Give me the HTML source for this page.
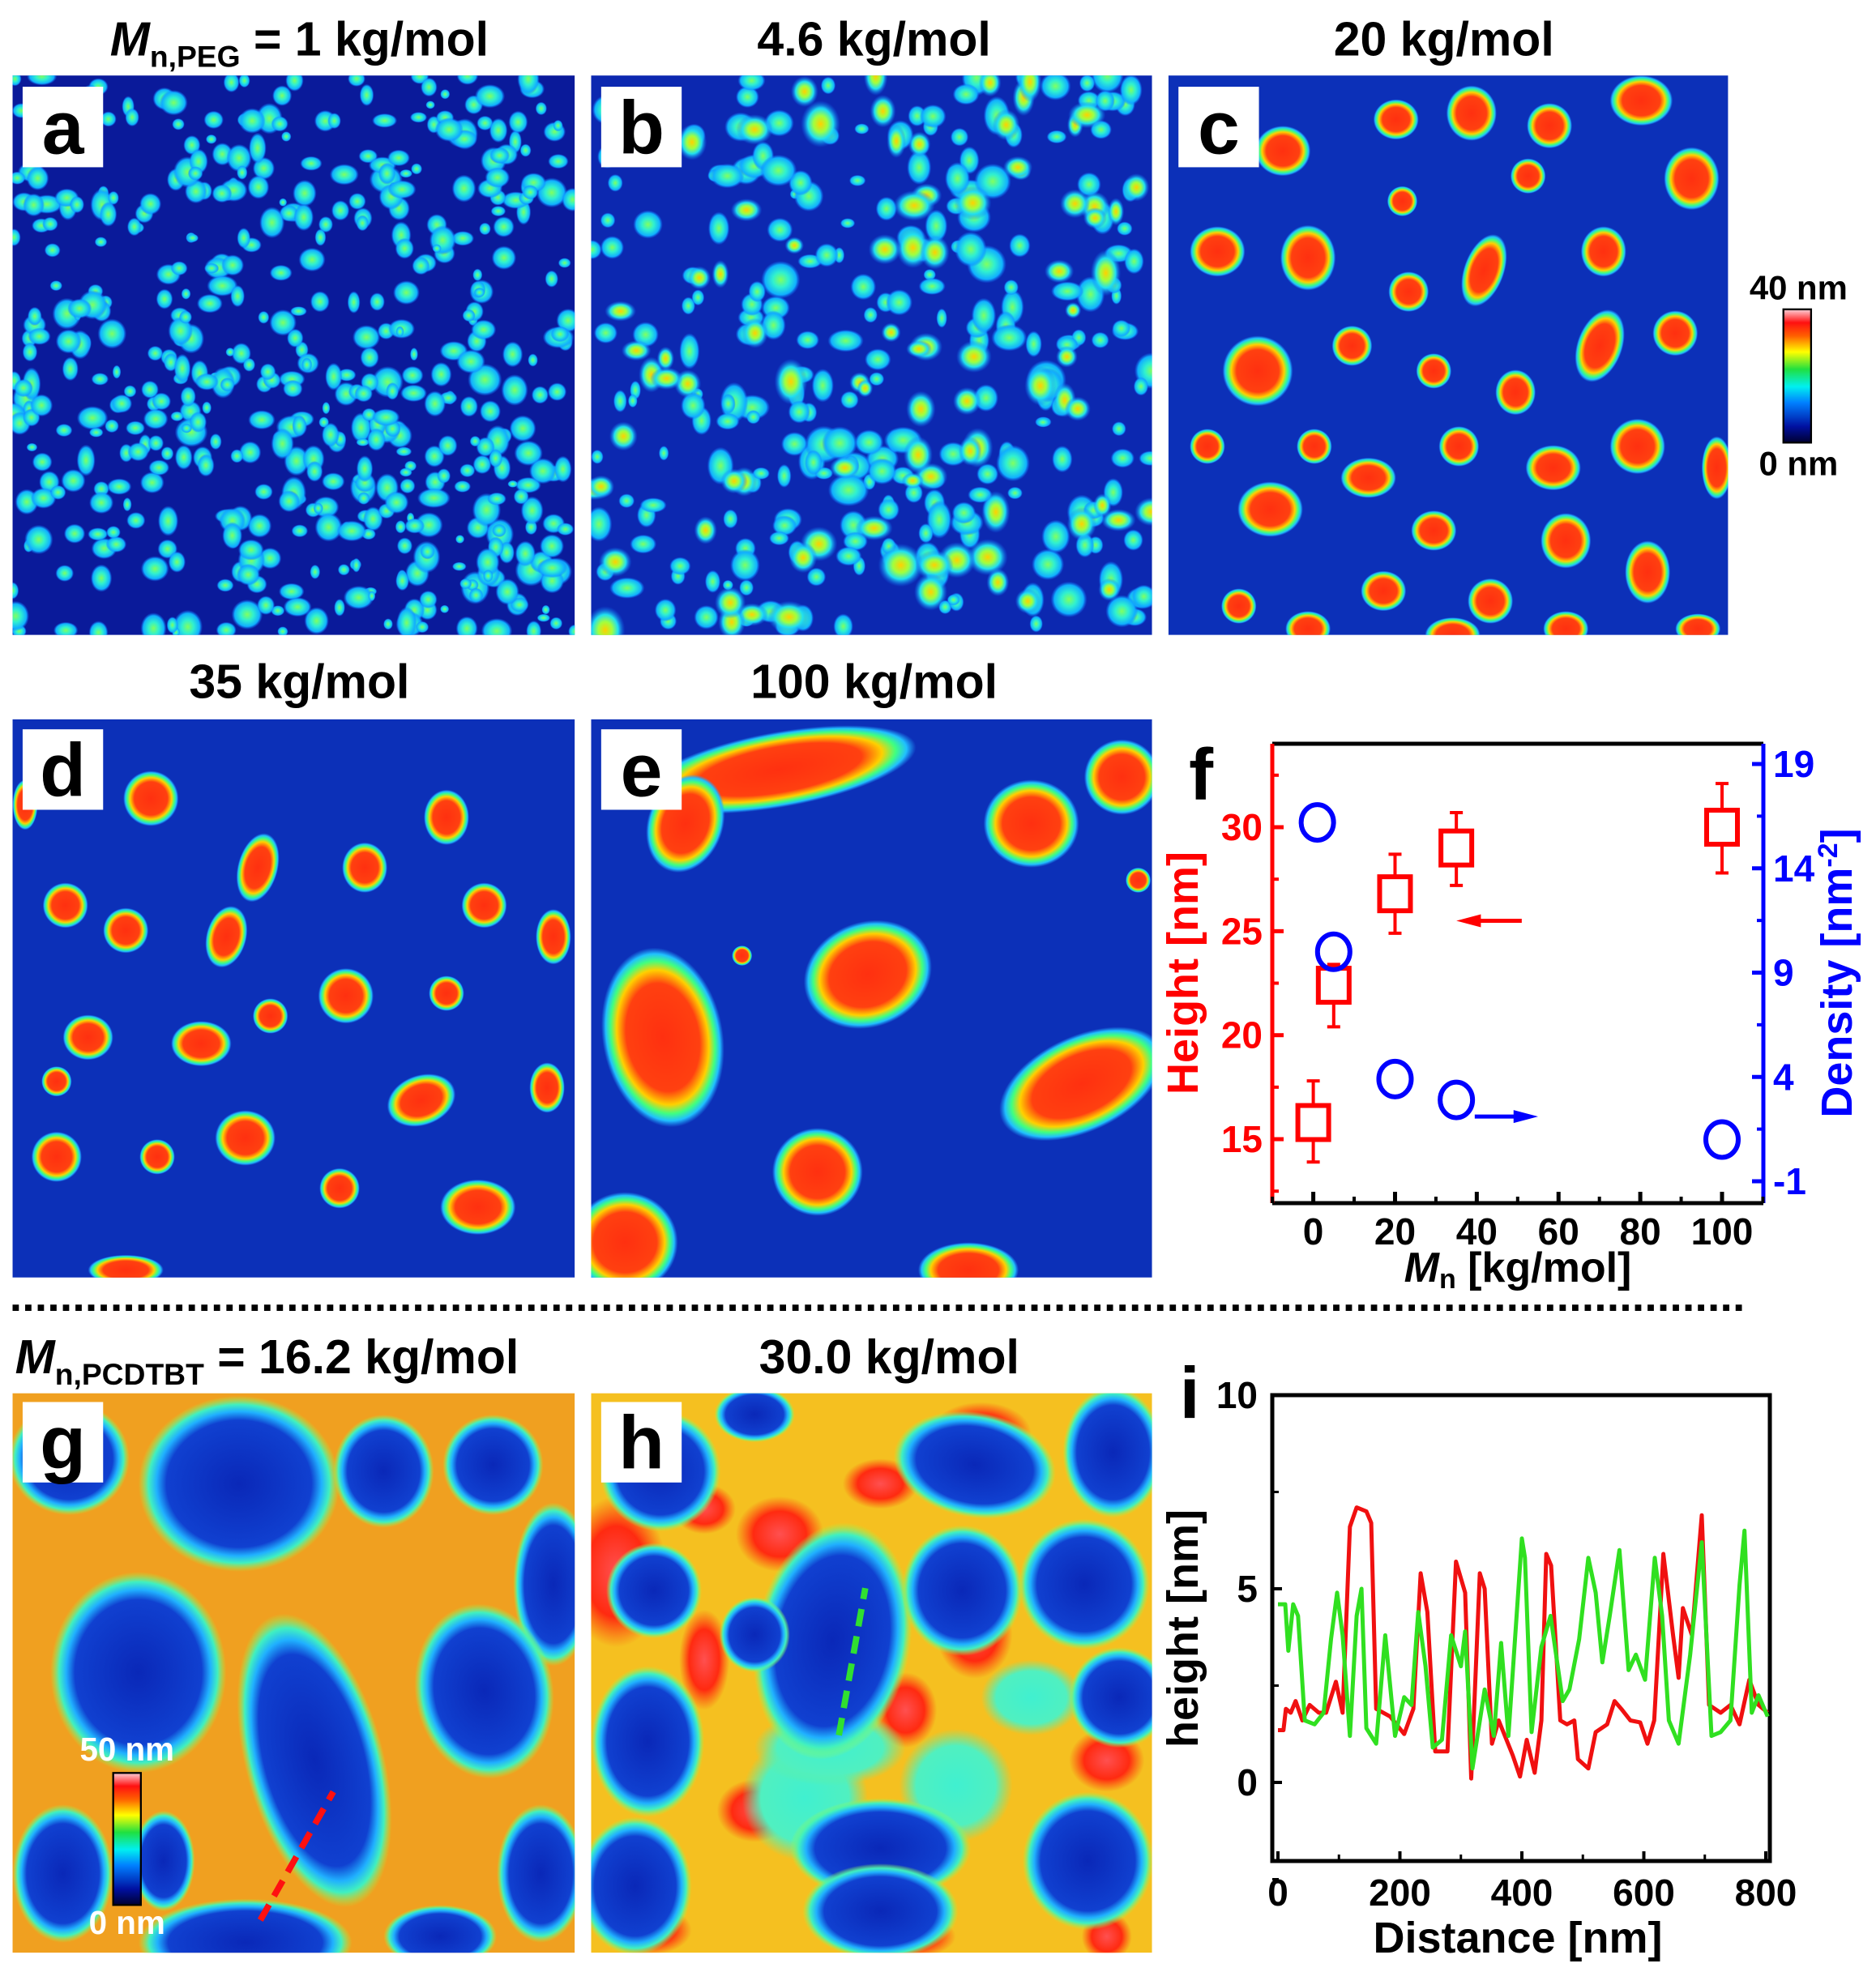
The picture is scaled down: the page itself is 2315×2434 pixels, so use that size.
<!DOCTYPE html>
<html><head><meta charset="utf-8"><style>
html,body{margin:0;padding:0;background:#fff}
svg{display:block;font-family:"Liberation Sans",Arial,sans-serif;font-weight:bold}
</style></head><body>
<svg id="fig" width="2315" height="2434" viewBox="0 0 2315 2434" xmlns="http://www.w3.org/2000/svg">
<defs>
<radialGradient id="gBlob"><stop offset="0" stop-color="#ff3010"/><stop offset="0.6" stop-color="#ff4010"/><stop offset="0.75" stop-color="#ffd000"/><stop offset="0.85" stop-color="#40ff80"/><stop offset="0.93" stop-color="#20c0ff"/><stop offset="1" stop-color="#20a0ff" stop-opacity="0"/></radialGradient>
<radialGradient id="gCyan"><stop offset="0" stop-color="#80ff60"/><stop offset="0.4" stop-color="#30f0d0"/><stop offset="0.8" stop-color="#10b0ff"/><stop offset="1" stop-color="#1070ff" stop-opacity="0"/></radialGradient>
<radialGradient id="gYel"><stop offset="0" stop-color="#ffd000"/><stop offset="0.35" stop-color="#a0ff40"/><stop offset="0.65" stop-color="#20e0f0"/><stop offset="1" stop-color="#1070ff" stop-opacity="0"/></radialGradient>
<radialGradient id="gHole"><stop offset="0" stop-color="#0a28b8"/><stop offset="0.72" stop-color="#1040d0"/><stop offset="0.82" stop-color="#20b0ff"/><stop offset="0.9" stop-color="#40f0c0"/><stop offset="1" stop-color="#a0ff40" stop-opacity="0"/></radialGradient>
<radialGradient id="gRed"><stop offset="0" stop-color="#ff5050"/><stop offset="0.6" stop-color="#ff2a10"/><stop offset="1" stop-color="#ff4010" stop-opacity="0"/></radialGradient>
<radialGradient id="gTeal"><stop offset="0" stop-color="#40f0d0"/><stop offset="0.7" stop-color="#50f0c0"/><stop offset="1" stop-color="#60f0a0" stop-opacity="0"/></radialGradient>
<linearGradient id="cbar" x1="0" y1="1" x2="0" y2="0"><stop offset="0" stop-color="#000030"/><stop offset="0.12" stop-color="#0010a0"/><stop offset="0.3" stop-color="#0080ff"/><stop offset="0.42" stop-color="#00f0f0"/><stop offset="0.55" stop-color="#20e040"/><stop offset="0.68" stop-color="#ffff00"/><stop offset="0.8" stop-color="#ff6000"/><stop offset="0.9" stop-color="#ff1010"/><stop offset="1" stop-color="#ffd0d8"/></linearGradient>
<clipPath id="cA"><rect x="10" y="60" width="447" height="445"/></clipPath>
<clipPath id="cB"><rect x="470" y="60" width="446" height="445"/></clipPath>
<clipPath id="cC"><rect x="929" y="60" width="445" height="445"/></clipPath>
<clipPath id="cD"><rect x="10" y="572" width="447" height="444"/></clipPath>
<clipPath id="cE"><rect x="470" y="572" width="446" height="444"/></clipPath>
<clipPath id="cG"><rect x="10" y="1108" width="447" height="445"/></clipPath>
<clipPath id="cH"><rect x="470" y="1108" width="446" height="445"/></clipPath>
</defs>
<g id="imgs" transform="scale(1.552)">
 <g clip-path="url(#cA)"><rect x="10" y="60" width="447" height="445" fill="#0a1a9a"/><g id="blobsA"></g></g>
 <g clip-path="url(#cB)"><rect x="470" y="60" width="446" height="445" fill="#0c28b0"/><g id="blobsB"></g></g>
 <g clip-path="url(#cC)"><rect x="929" y="60" width="445" height="445" fill="#0c30b8"/><g id="blobsC"></g></g>
 <g clip-path="url(#cD)"><rect x="10" y="572" width="447" height="444" fill="#0c30b8"/><g id="blobsD"></g></g>
 <g clip-path="url(#cE)"><rect x="470" y="572" width="446" height="444" fill="#0c30b8"/><g id="blobsE"></g></g>
 <g clip-path="url(#cG)"><rect x="10" y="1108" width="447" height="445" fill="#f0a020"/><g id="blobsG"></g>
   <line x1="207" y1="1527" x2="265" y2="1425" stroke="#ff1010" stroke-width="5" stroke-dasharray="14 8"/></g>
 <g clip-path="url(#cH)"><rect x="470" y="1108" width="446" height="445" fill="#f5c020"/><g id="blobsH"></g>
   <line x1="667" y1="1380" x2="688" y2="1263" stroke="#30e030" stroke-width="5" stroke-dasharray="14 8"/></g>

 <g font-size="60" text-anchor="middle">
  <rect x="18" y="69" width="64" height="64" fill="#fff"/><text x="50" y="122">a</text>
  <rect x="478" y="69" width="64" height="64" fill="#fff"/><text x="510" y="122">b</text>
  <rect x="937" y="69" width="64" height="64" fill="#fff"/><text x="969" y="122">c</text>
  <rect x="18" y="580" width="64" height="64" fill="#fff"/><text x="50" y="633">d</text>
  <rect x="478" y="580" width="64" height="64" fill="#fff"/><text x="510" y="633">e</text>
  <rect x="18" y="1115" width="64" height="64" fill="#fff"/><text x="50" y="1168">g</text>
  <rect x="478" y="1115" width="64" height="64" fill="#fff"/><text x="510" y="1168">h</text>
  <text x="955" y="636" font-size="58">f</text>
  <text x="946" y="1128" font-size="58">i</text>
 </g>
 <g font-size="38" text-anchor="middle">
  <text x="238" y="44"><tspan font-style="italic">M</tspan><tspan font-size="24" dy="9">n,PEG</tspan><tspan dy="-9"> = 1 kg/mol</tspan></text>
  <text x="695" y="44">4.6 kg/mol</text>
  <text x="1148" y="44">20 kg/mol</text>
  <text x="238" y="555">35 kg/mol</text>
  <text x="695" y="555">100 kg/mol</text>
  <text x="12" y="1092" text-anchor="start"><tspan font-style="italic">M</tspan><tspan font-size="24" dy="9">n,PCDTBT</tspan><tspan dy="-9"> = 16.2 kg/mol</tspan></text>
  <text x="707" y="1092">30.0 kg/mol</text>
 </g>
 <g>
  <rect x="1418" y="246" width="22" height="106" fill="url(#cbar)" stroke="#000" stroke-width="1.5"/>
  <text x="1430" y="238" font-size="27" text-anchor="middle">40 nm</text>
  <text x="1430" y="378" font-size="27" text-anchor="middle">0 nm</text>
 </g>
 <g>
  <rect x="90" y="1410" width="22" height="105" fill="url(#cbar)" stroke="#000" stroke-width="1.5"/>
  <text x="101" y="1400" font-size="26" text-anchor="middle" fill="#fff">50 nm</text>
  <text x="101" y="1538" font-size="26" text-anchor="middle" fill="#fff">0 nm</text>
 </g>
 <line x1="10" y1="1040" x2="1388" y2="1040" stroke="#000" stroke-width="5" stroke-dasharray="5 5"/>
</g>

<g id="chartF"></g>
<g id="chartI"></g>
</svg>
<script>
const NS='http://www.w3.org/2000/svg';
function mk(tag,attrs,parent){const e=document.createElementNS(NS,tag);for(const k in attrs)e.setAttribute(k,attrs[k]);parent.appendChild(e);return e;}

// ---- chart f data ----
const fMn=[0,5,20,35,100];
const fHeight=[15.8,22.4,26.8,29.0,30.0];
const fHeightLo=[13.9,20.4,24.9,27.2,27.8];
const fHeightHi=[17.8,23.4,28.7,30.7,32.1];
const fDensMn=[1,5,20,35,100];
const fDensity=[16.2,10.0,3.9,2.9,1.0];
const fXTicks=[0,20,40,60,80,100];
const fHTicks=[15,20,25,30];
const fDTicks=[-1,4,9,14,19];

// ---- chart i data ----
const iRedX=[0,9,13,21,29,40,52,67,79,95,106,118,129,145,153,161,184,207,222,234,245,258,278,292,307,317,331,339,351,362,385,397,408,421,432,440,448,463,474,486,492,509,521,540,552,563,578,594,606,617,632,648,657,664,679,695,707,726,742,757,773,788,803];
const iRed=[1.35,1.35,1.9,1.8,2.1,1.6,2.0,1.8,1.8,2.6,1.8,6.6,7.1,7.0,6.7,1.9,1.7,1.25,1.9,5.4,4.4,0.8,0.8,5.7,4.9,0.1,5.4,5.0,1.0,1.6,0.7,0.15,1.1,0.25,1.6,5.9,5.6,1.6,1.5,1.6,0.6,0.36,1.3,1.5,2.1,1.9,1.6,1.55,1.0,1.6,5.9,3.8,2.7,4.5,3.8,6.9,2.0,1.8,2.0,1.5,2.65,2.0,1.8];
const iGreenX=[0,12,17,25,33,44,60,75,87,97,106,118,129,137,145,161,176,192,207,219,230,242,254,269,284,300,307,319,339,354,366,378,400,405,416,432,447,467,478,494,509,521,532,544,560,575,587,602,618,630,641,657,676,695,711,726,742,757,765,777,788,803];
const iGreen=[4.6,4.6,3.4,4.6,4.3,1.6,1.5,1.8,3.7,4.9,3.8,1.2,4.3,5.0,1.4,1.0,3.8,1.2,2.2,2.0,4.4,3.0,0.9,1.1,3.8,3.0,3.9,0.36,2.4,1.2,3.6,1.2,6.3,5.8,1.3,3.5,4.3,2.1,2.4,3.7,5.8,4.9,3.1,4.3,6.0,2.9,3.3,2.65,5.8,4.3,1.6,1.0,3.3,6.2,1.2,1.3,1.6,5.1,6.5,1.8,2.25,1.7];
const iXTicks=[0,200,400,600,800];
const iYTicks=[0,5,10];

// ---------- chart f ----------
(function(){
 const g=document.getElementById('chartF');
 const xF=v=>1620.6+v*5.044, yH=v=>1021+(30-v)*25.67, yD=v=>943+(19-v)*25.75;
 const L=1570,R=2176,T=918,B=1485;
 let e;
 e=mk('line',{x1:L,y1:T,x2:R,y2:T,stroke:'#000','stroke-width':5},g);
 
 
 e=mk('line',{x1:L,y1:B,x2:R,y2:B,stroke:'#000','stroke-width':5},g);
 
 
 e=mk('line',{x1:L,y1:T,x2:L,y2:B,stroke:'#f00','stroke-width':5},g);
 
 
 e=mk('line',{x1:R,y1:T,x2:R,y2:B,stroke:'#00f','stroke-width':5},g);
 
 
 fXTicks.forEach(v=>{
  mk('line',{x1:xF(v),y1:B,x2:xF(v),y2:B-14,stroke:'#000','stroke-width':5},g);
  mk('line',{x1:xF(v+10),y1:B,x2:xF(v+10),y2:B-8,stroke:'#000','stroke-width':4},g);
  e=mk('text',{x:xF(v),y:1536,'font-size':46,'text-anchor':'middle'},g);e.textContent=v;
  
  
 });
 mk('line',{x1:xF(-10),y1:B,x2:xF(-10),y2:B-8,stroke:'#000','stroke-width':4},g);
 fHTicks.forEach(v=>{
  mk('line',{x1:L,y1:yH(v),x2:L+14,y2:yH(v),stroke:'#f00','stroke-width':5},g);
  mk('line',{x1:L,y1:yH(v+2.5),x2:L+8,y2:yH(v+2.5),stroke:'#f00','stroke-width':4},g);
  e=mk('text',{x:L-12,y:yH(v)+16,'font-size':46,'text-anchor':'end',fill:'#f00'},g);e.textContent=v;
  
  
 });
 mk('line',{x1:L,y1:yH(12.5),x2:L+8,y2:yH(12.5),stroke:'#f00','stroke-width':4},g);
 fDTicks.forEach(v=>{
  mk('line',{x1:R,y1:yD(v),x2:R-14,y2:yD(v),stroke:'#00f','stroke-width':5},g);
  if(v<19) mk('line',{x1:R,y1:yD(v+2.5),x2:R-8,y2:yD(v+2.5),stroke:'#00f','stroke-width':4},g);
  e=mk('text',{x:R+12,y:yD(v)+16,'font-size':46,'text-anchor':'start',fill:'#00f'},g);e.textContent=v;
  
  
 });
 fMn.forEach((m,i)=>{
  const x=xF(m);
  mk('line',{x1:x,y1:yH(fHeightLo[i]),x2:x,y2:yH(fHeightHi[i]),stroke:'#f00','stroke-width':4},g);
  mk('line',{x1:x-8,y1:yH(fHeightLo[i]),x2:x+8,y2:yH(fHeightLo[i]),stroke:'#f00','stroke-width':4},g);
  mk('line',{x1:x-8,y1:yH(fHeightHi[i]),x2:x+8,y2:yH(fHeightHi[i]),stroke:'#f00','stroke-width':4},g);
  e=mk('rect',{x:x-19,y:yH(fHeight[i])-21,width:38,height:42,fill:'#fff',stroke:'#f00','stroke-width':6},g);
  
  
 });
 fDensMn.forEach((m,i)=>{
  e=mk('ellipse',{cx:xF(m),cy:yD(fDensity[i]),rx:20,ry:22,fill:'none',stroke:'#00f','stroke-width':6},g);
  
  
 });
 mk('line',{x1:xF(51),y1:yH(25.5),x2:xF(38),y2:yH(25.5),stroke:'#f00','stroke-width':5},g);
 mk('polygon',{points:`${xF(35)},${yH(25.5)} ${xF(41)},${yH(25.5)-8} ${xF(41)},${yH(25.5)+8}`,fill:'#f00'},g);
 mk('line',{x1:xF(39.5),y1:yD(2.1),x2:xF(52),y2:yD(2.1),stroke:'#00f','stroke-width':5},g);
 mk('polygon',{points:`${xF(55)},${yD(2.1)} ${xF(49)},${yD(2.1)-8} ${xF(49)},${yD(2.1)+8}`,fill:'#00f'},g);
 e=mk('text',{x:1873,y:1582,'font-size':52,'text-anchor':'middle'},g);
 e.innerHTML='<tspan font-style="italic">M</tspan><tspan font-size="34" dy="8">n</tspan><tspan dy="-8"> [kg/mol]</tspan>';
 
 
 e=mk('text',{x:0,y:0,'font-size':54,'text-anchor':'middle',fill:'#f00',transform:'translate(1478,1201) rotate(-90)'},g);e.textContent='Height [nm]';
 
 
 e=mk('text',{x:0,y:0,'font-size':54,'text-anchor':'middle',fill:'#00f',transform:'translate(2285,1201) rotate(-90)'},g);
 e.innerHTML='Density [nm<tspan font-size="34" dy="-18">-2</tspan><tspan dy="18">]</tspan>';
 
 
})();

// ---------- chart i ----------
(function(){
 const g=document.getElementById('chartI');
 const xI=v=>1577+v*0.7525, yI=v=>2200-v*47.8;
 const L=1570,R=2184,T=1722,B=2297;
 let e;
 e=mk('rect',{x:L,y:T,width:R-L,height:B-T,fill:'none',stroke:'#000','stroke-width':5},g);
 
 
 iXTicks.forEach(v=>{
  mk('line',{x1:xI(v),y1:B,x2:xI(v),y2:B-12,stroke:'#000','stroke-width':4},g);
  if(v<800) mk('line',{x1:xI(v+100),y1:B,x2:xI(v+100),y2:B-8,stroke:'#000','stroke-width':3},g);
  e=mk('text',{x:xI(v),y:2352,'font-size':46,'text-anchor':'middle'},g);e.textContent=v;
  
  
 });
 iYTicks.forEach(v=>{
  mk('line',{x1:L,y1:yI(v),x2:L+12,y2:yI(v),stroke:'#000','stroke-width':4},g);
  mk('line',{x1:L,y1:yI(v-2.5),x2:L+8,y2:yI(v-2.5),stroke:'#000','stroke-width':3},g);
  e=mk('text',{x:L-18,y:yI(v)+16,'font-size':46,'text-anchor':'end'},g);e.textContent=v;
  
  
 });
 const path=(xs,ys)=>xs.map((x,i)=>(i?'L':'M')+xI(x).toFixed(1)+','+yI(ys[i]).toFixed(1)).join(' ');
 e=mk('path',{d:path(iRedX,iRed),fill:'none',stroke:'#f01010','stroke-width':5,'stroke-linejoin':'round'},g);
 
 
 e=mk('path',{d:path(iGreenX,iGreen),fill:'none',stroke:'#30e020','stroke-width':5,'stroke-linejoin':'round'},g);
 
 
 e=mk('text',{x:1873,y:2410,'font-size':54,'text-anchor':'middle'},g);e.textContent='Distance [nm]';
 
 
 e=mk('text',{x:0,y:0,'font-size':54,'text-anchor':'middle',transform:'translate(1478,2010) rotate(-90)'},g);e.textContent='height [nm]';
 
 
})();

// ---------- AFM textures (image approximations) ----------
let seed=7;function rnd(){seed=(seed*16807)%2147483647;return seed/2147483647;}
function scatter(id,x0,y0,w,h,n,rmin,rmax,fill){
 const g=document.getElementById(id);
 for(let i=0;i<n;i++){
  const cx=x0+rnd()*w, cy=y0+rnd()*h, r=rmin+rnd()*(rmax-rmin);
  mk('ellipse',{cx:cx.toFixed(1),cy:cy.toFixed(1),rx:(r*(0.7+rnd()*0.6)).toFixed(1),ry:(r*(0.7+rnd()*0.6)).toFixed(1),fill:fill},g);
 }
}
function place(id,list,fill){
 const g=document.getElementById(id);
 list.forEach(b=>mk('ellipse',{cx:b[0],cy:b[1],rx:b[2],ry:b[3],transform:`rotate(${b[4]||0} ${b[0]} ${b[1]})`,fill:fill},g));
}
scatter('blobsA',10,60,447,445,520,4,11,'url(#gCyan)');
scatter('blobsB',470,60,446,445,260,5,13,'url(#gCyan)');
scatter('blobsB',470,60,446,445,90,8,15,'url(#gYel)');
place('blobsC',[[1020,120,22,20],[1110,95,18,16],[1170,90,20,22],[1232,100,18,18],[1305,80,25,20],[1345,142,22,25],[1215,140,14,14],[1115,160,12,12],[968,200,22,20],[1040,205,22,26],[1120,232,16,16],[1180,215,16,30,20],[1275,200,18,20],[1332,265,18,18],[1000,295,28,28],[1075,275,16,16],[1140,295,14,14],[1205,312,16,18],[1272,275,18,30,20],[1160,355,16,16],[1235,372,22,18],[1302,355,22,22],[960,355,14,14],[1045,355,14,14],[1088,380,22,16],[1010,405,26,22],[1140,422,18,16],[1245,430,20,22],[1310,455,18,25],[1185,478,18,18],[1100,470,18,16],[985,482,14,14],[1365,372,12,25],[1040,500,18,14],[1155,505,22,14],[1245,500,18,14],[1350,500,18,12]],'url(#gBlob)');
place('blobsD',[[120,635,22,22],[52,720,18,18],[100,740,18,18],[205,690,16,28,15],[180,745,16,25,15],[290,690,18,20],[355,650,18,22],[385,720,18,18],[440,745,14,22],[275,792,22,22],[215,808,14,14],[355,790,14,14],[160,830,24,18],[70,825,20,18],[335,875,28,20,-20],[195,905,24,22],[45,920,20,20],[125,920,14,14],[270,945,16,16],[380,960,30,22],[435,865,14,20],[20,640,10,20],[100,1010,30,12],[45,860,12,12]],'url(#gBlob)');
place('blobsE',[[620,612,110,30,-10],[545,655,30,40,20],[820,655,38,35],[892,618,30,30],[690,775,52,42,-20],[527,825,48,72,-10],[860,862,70,38,-25],[650,932,36,35],[497,988,42,40],[770,1010,40,22],[905,700,10,10],[590,760,8,8]],'url(#gBlob)');
place('blobsG',[[55,1160,48,45],[190,1180,80,70],[305,1170,40,45],[392,1165,40,40],[440,1260,32,65],[110,1330,70,80],[250,1400,55,120,-15],[385,1345,55,70,-10],[430,1490,35,55],[50,1490,40,55],[195,1545,85,35],[350,1540,45,25],[130,1480,25,40]],'url(#gHole)');
place('blobsH',[[490,1250,40,60],[560,1200,25,20],[620,1220,35,30],[700,1180,30,20],[780,1140,40,25],[560,1320,20,40],[720,1360,25,30],[775,1300,30,35],[600,1440,30,25],[515,1535,35,20],[720,1540,40,18],[880,1400,30,25],[880,1540,20,20]],'url(#gRed)');
place('blobsH',[[640,1430,50,50],[760,1420,45,45],[820,1350,40,30],[660,1390,60,30]],'url(#gTeal)');
place('blobsH',[[525,1170,48,48],[600,1125,32,22],[775,1165,65,42,10],[885,1155,40,52],[520,1265,38,38],[662,1305,62,95,10],[765,1265,48,52],[862,1260,52,52],[515,1385,45,60],[890,1350,40,40],[700,1470,72,40],[700,1520,62,38],[505,1500,45,55],[865,1480,52,55],[600,1300,28,30]],'url(#gHole)');
</script>
</body></html>
